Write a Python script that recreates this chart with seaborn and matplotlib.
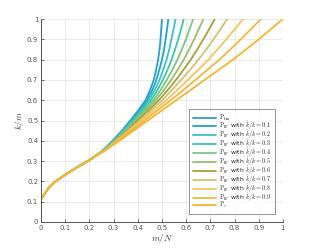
import numpy as np
import pandas as pd
import seaborn as sns
import matplotlib
matplotlib.use("Agg")
import matplotlib.pyplot as plt

# shared lower part (m/N, k/m)
base_x = [0.0, 0.01, 0.03, 0.06, 0.1, 0.15, 0.2, 0.231]
base_y = [0.112, 0.13, 0.165, 0.2, 0.233, 0.27, 0.305, 0.33]

levels = [0.35, 0.4, 0.45, 0.5, 0.55, 0.6, 0.65, 0.7, 0.75, 0.8, 0.85, 0.9, 0.95, 1.0]

# m/N of each curve at those levels
p_bin = [.254, .296, .334, .369, .402, .432, .451, .466, .476, .484, .490, .494, .497, .500]
p_01 = [.254, .297, .337, .373, .407, .439, .460, .477, .489, .500, .509, .515, .521, .526]
p_02 = [.255, .299, .339, .377, .413, .446, .470, .490, .505, .519, .530, .539, .548, .556]
p_03 = [.255, .301, .343, .382, .420, .455, .481, .504, .523, .540, .554, .567, .579, .590]
p_04 = [.256, .303, .347, .388, .427, .465, .494, .520, .543, .564, .582, .599, .614, .629]
p_05 = [.257, .306, .351, .394, .436, .475, .508, .538, .565, .590, .612, .633, .652, .671]
p_06 = [.257, .308, .355, .400, .445, .487, .524, .558, .589, .619, .646, .671, .695, .718]
p_07 = [.258, .311, .360, .408, .455, .501, .541, .579, .616, .651, .683, .713, .742, .770]
p_08 = [.259, .315, .367, .417, .468, .517, .563, .607, .650, .692, .729, .766, .801, .835]
p_09 = [.261, .319, .374, .428, .482, .536, .588, .638, .688, .738, .782, .826, .868, .909]
p_tau = [.262, .324, .383, .441, .500, .559, .618, .676, .735, .794, .847, .900, .950, 1.000]

labels = [r'$\mathrm{P}_{\mathrm{bin}}$'] + \
    [r'$\mathrm{P}_{\mathrm{IF}}$ with $\hat{k}/k = 0.%d$' % i for i in range(1, 10)] + \
    [r'$\mathrm{P}_{\tau}$']
series = [p_bin, p_01, p_02, p_03, p_04, p_05, p_06, p_07, p_08, p_09, p_tau]
colors = ['#2e9bd6', '#1ea6c4', '#3fbfc6', '#3cc7a2', '#7cc682', '#97bf6c',
          '#a4a23e', '#cdc273', '#f2c462', '#f3b73a', '#f5b531']

rows = []
for lab, xs in zip(labels, series):
    for x, y in zip(base_x + xs, base_y + levels):
        rows.append((lab, x, y))
df = pd.DataFrame(rows, columns=['curve', 'mN', 'km'])

sns.set_style("white")
plt.rcParams['mathtext.fontset'] = 'cm'
plt.rcParams['font.family'] = ['DejaVu Sans']

fig = plt.figure(figsize=(3.13, 2.5), dpi=100)
ax = fig.add_axes([0.131, 0.112, 0.773, 0.812])

sns.lineplot(data=df, x='mN', y='km', hue='curve', hue_order=labels,
             palette=colors, estimator=None, sort=False, linewidth=1.3, ax=ax)

ax.set_xlim(0, 1)
ax.set_ylim(0, 1)
ticks = np.round(np.arange(0, 1.01, 0.1), 1)
ticklab = ['0'] + ['%.1f' % t for t in ticks[1:-1]] + ['1']
ax.set_xticks(ticks)
ax.set_yticks(ticks)
ax.set_xticklabels(ticklab)
ax.set_yticklabels(ticklab)
ax.tick_params(axis='both', direction='in', length=2.5, width=0.6, labelsize=5,
               colors='#555555', pad=2, left=True, bottom=True)
ax.grid(True, color='#e6e6e6', linewidth=0.6)
for s in ['top', 'right']:
    ax.spines[s].set_visible(False)
for s in ['left', 'bottom']:
    ax.spines[s].set_color('#555555')
    ax.spines[s].set_linewidth(0.7)

ax.set_xlabel(r'$m/N$', fontsize=6.5, color='#333333', labelpad=1)
ax.set_ylabel(r'$k/m$', fontsize=6.5, color='#333333', labelpad=1)

leg = ax.legend(loc='lower right', fontsize=4.4, frameon=True, fancybox=False,
                handlelength=3.8, labelspacing=-0.62, borderpad=0.6,
                handletextpad=0.5, borderaxespad=0.3, handleheight=0.5,
                bbox_to_anchor=(0.975, 0.03))
leg.get_frame().set_edgecolor('#777777')
leg.get_frame().set_linewidth(0.7)
for line in leg.get_lines():
    line.set_linewidth(1.3)

fig.savefig('out.png', dpi=100)
